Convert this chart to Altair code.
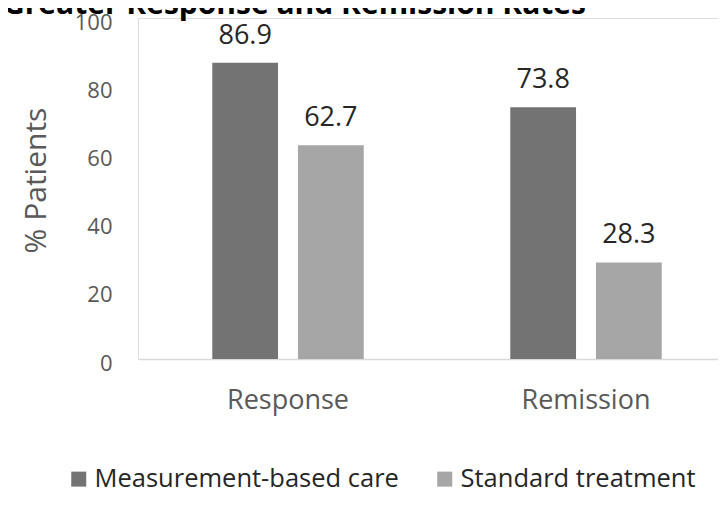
import altair as alt
import pandas as pd

categories = ["Response", "Remission"]
series = ["Measurement-based care", "Standard treatment"]
mbc_values = [86.9, 73.8]
std_values = [62.7, 28.3]
colors = ["#737373", "#a6a6a6"]
y_ticks = [0, 20, 40, 60, 80, 100]
title_text = "Greater Response and Remission Rates"

rows = []
for i, c in enumerate(categories):
    rows.append({"category": c, "series": series[0], "value": mbc_values[i]})
    rows.append({"category": c, "series": series[1], "value": std_values[i]})
df = pd.DataFrame(rows)

FONT = "Open Sans"

x_enc = alt.X(
    "category:N",
    sort=categories,
    scale=alt.Scale(range=[1, 597], paddingInner=0, paddingOuter=0),
    axis=alt.Axis(
        title=None, ticks=False, labelAngle=0, labelFontSize=27,
        labelColor="#595959", labelFont=FONT, labelPadding=28,
        domainColor="#d9d9d9", domainWidth=1.5, grid=False,
    ),
)
xoff_enc = alt.XOffset(
    "series:N", sort=series,
    scale=alt.Scale(paddingInner=0.2326, paddingOuter=0.855),
)
y_enc = alt.Y(
    "value:Q",
    scale=alt.Scale(domain=[0, 100]),
    axis=alt.Axis(
        values=y_ticks, title="% Patients", ticks=False, domain=False, grid=False,
        labelFontSize=22, labelColor="#595959", labelFont=FONT, labelPadding=26,
        labelOffset=4,
        titleFontSize=30, titleFont=FONT, titleColor="#595959", titleFontWeight="normal",
        titleX=-102, titleY=162, titleAngle=-90, titleAlign="center", titleBaseline="middle",
    ),
)

bars = alt.Chart(df).mark_bar().encode(
    x=x_enc,
    xOffset=xoff_enc,
    y=y_enc,
    color=alt.Color(
        "series:N", sort=series,
        scale=alt.Scale(domain=series, range=colors),
        legend=alt.Legend(
            title=None, orient="none", legendX=-72, legendY=448, direction="horizontal",
            symbolType="square", symbolSize=225, symbolStrokeWidth=0, symbolOpacity=1,
            labelFontSize=25.5, labelFont=FONT, labelColor="#262626", labelOffset=3,
            labelLimit=0, columnPadding=33, padding=0,
        ),
    ),
)

labels = alt.Chart(df).mark_text(
    baseline="alphabetic", dy=-19, fontSize=27, font=FONT, color="#262626"
).encode(
    x=alt.X("category:N", sort=categories),
    xOffset=alt.XOffset("series:N", sort=series),
    y=alt.Y("value:Q"),
    text=alt.Text("value:Q", format=".1f"),
)

title_df = pd.DataFrame({"t": [title_text]})
title = alt.Chart(title_df).mark_text(
    align="left", baseline="alphabetic", fontSize=30, fontWeight="bold",
    font=FONT, color="#000000",
).encode(x=alt.value(-135), y=alt.value(-4), text="t:N")

chart = alt.layer(bars, labels, title).properties(
    width=580, height=341,
    autosize=alt.AutoSizeParams(type="none"),
    padding={"left": 130, "top": 10, "right": 0, "bottom": 139},
).configure_view(stroke=None).configure(background="white")

chart.save("out.html", embed_options={"renderer": "svg", "actions": False})
